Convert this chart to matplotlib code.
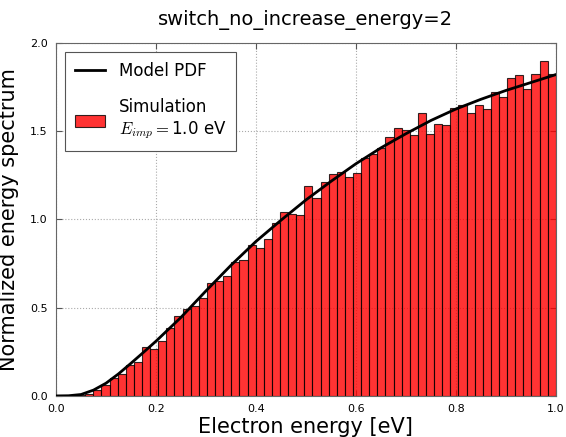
import numpy as np
import matplotlib
matplotlib.use("Agg")
import matplotlib.pyplot as plt

plt.rcParams["mathtext.fontset"] = "cm"

# simulated spectrum: 60 bins between the lowest and highest sampled energy
bin_edges = np.linspace(0.026, 1.0, 61)
sim_density = [
    0.003, 0.006, 0.012, 0.032, 0.062, 0.100, 0.122, 0.176, 0.190, 0.275,
    0.264, 0.310, 0.383, 0.450, 0.492, 0.508, 0.553, 0.638, 0.650, 0.682,
    0.760, 0.770, 0.853, 0.838, 0.888, 0.978, 1.040, 1.030, 1.022, 1.191,
    1.122, 1.210, 1.257, 1.267, 1.238, 1.262, 1.346, 1.371, 1.407, 1.466,
    1.516, 1.508, 1.477, 1.602, 1.486, 1.541, 1.535, 1.633, 1.646, 1.601,
    1.646, 1.624, 1.724, 1.692, 1.800, 1.816, 1.739, 1.824, 1.896, 1.824,
]

# model PDF sampled on the energy axis
model_e = [0.0, 0.025, 0.05, 0.075, 0.10, 0.125, 0.15, 0.175, 0.20, 0.25,
           0.30, 0.35, 0.40, 0.45, 0.50, 0.55, 0.60, 0.65, 0.70, 0.75,
           0.80, 0.85, 0.90, 0.95, 1.00]
model_pdf = [0.0, 0.001, 0.008, 0.033, 0.072, 0.125, 0.185, 0.247, 0.31, 0.445,
             0.595, 0.74, 0.875, 0.995, 1.11, 1.215, 1.315, 1.405, 1.485, 1.56,
             1.625, 1.68, 1.73, 1.775, 1.82]

x_ticks = [0.0, 0.2, 0.4, 0.6, 0.8, 1.0]
y_ticks = [0.0, 0.5, 1.0, 1.5, 2.0]

fig = plt.figure(figsize=(5.66, 4.37), dpi=100)
ax = fig.add_axes([0.099, 0.094, 0.883, 0.808])

ax.plot(model_e, model_pdf, color="black", lw=2, label="Model PDF", zorder=3)
ax.bar(bin_edges[:-1], sim_density, width=np.diff(bin_edges), align="edge",
       color="red", alpha=0.8, edgecolor="black", linewidth=0.8,
       label="Simulation\n$E_{imp} = $1.0 eV", zorder=2)

ax.set_xlim(0, 1.0)
ax.set_ylim(0, 2.0)
ax.set_xticks(x_ticks)
ax.set_yticks(y_ticks)
ax.set_xticklabels([f"{v:.1f}" for v in x_ticks])
ax.set_yticklabels([f"{v:.1f}" for v in y_ticks])
ax.tick_params(direction="in", top=True, right=True, labelsize=8, length=4,
               pad=6, color="#555555")
for s in ax.spines.values():
    s.set_color("#666666")
ax.grid(True, linestyle=":", color="#aaaaaa", linewidth=0.8)
ax.set_axisbelow(True)

ax.set_title("switch_no_increase_energy=2", fontsize=14, pad=13)
ax.set_xlabel("Electron energy [eV]", fontsize=15, labelpad=2)
ax.set_ylabel("Normalized energy spectrum", fontsize=15, labelpad=8)

leg = ax.legend(loc="upper left", fontsize=12, fancybox=False, framealpha=1,
                edgecolor="#555555", labelspacing=1.1, borderpad=0.6,
                handlelength=1.8, borderaxespad=0.55)
leg.get_frame().set_linewidth(0.8)

fig.savefig("out.png", dpi=100, facecolor="white")
